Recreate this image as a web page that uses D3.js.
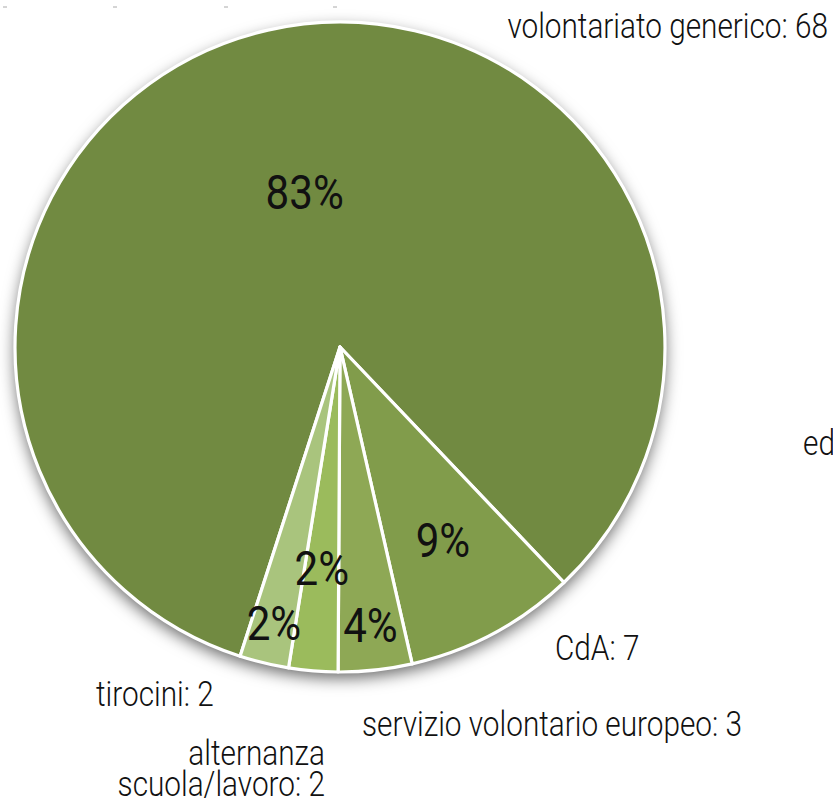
<!DOCTYPE html>
<html>
<head>
<meta charset="utf-8">
<script src="https://cdn.jsdelivr.net/npm/d3@7/dist/d3.min.js"></script>
<style>
  html, body { margin: 0; padding: 0; background: #fff; }
  svg { display: block; }
  text { font-family: Roboto, "Noto Sans", sans-serif; fill: #111; }
</style>
</head>
<body>
<svg id="chart" width="833" height="803"></svg>
<script>
// Ripartizione delle attività
const categories = ["volontariato generico", "CdA", "servizio volontario europeo", "alternanza scuola/lavoro", "tirocini"];
const values = [68, 7, 3, 2, 2];
const colors = ["#718a41", "#819c4b", "#8ea855", "#9bbb5c", "#a9c47d"];

// label placement
const pctRadius = [0.49, 0.67, 0.86, 0.68, 0.87];
const outerLabels = [
  { lines: ["volontariato generico: 68"], x: 828, y: 38, anchor: "end" },
  { lines: ["CdA: 7"], x: 555, y: 660, anchor: "start" },
  { lines: ["servizio volontario europeo: 3"], x: 362, y: 736, anchor: "start" },
  { lines: ["alternanza", "scuola/lavoro: 2"], x: 325, y: 765, anchor: "end" },
  { lines: ["tirocini: 2"], x: 96, y: 706, anchor: "start" }
];

const svg = d3.select("#chart");
const cx = 340, cy = 347, R = 325;
const squeezeOuter = 0.85, squeezePct = 0.86;

const defs = svg.append("defs");
const f = defs.append("filter").attr("id", "shadow")
  .attr("x", "-20%").attr("y", "-20%").attr("width", "140%").attr("height", "140%");
f.append("feDropShadow").attr("dx", 0).attr("dy", 6).attr("stdDeviation", 8)
  .attr("flood-color", "#000").attr("flood-opacity", 0.6);

const total = d3.sum(values);
const start = 197.9 * Math.PI / 180;
const pie = d3.pie().sort(null).startAngle(start).endAngle(start + 2 * Math.PI);
const arcs = pie(values);
const arc = d3.arc().innerRadius(0).outerRadius(R);

const g = svg.append("g").attr("transform", `translate(${cx},${cy})`);

g.append("circle").attr("r", R).attr("fill", "#fff").attr("filter", "url(#shadow)");

g.selectAll("path.slice").data(arcs).join("path")
  .attr("class", "slice")
  .attr("d", arc)
  .attr("fill", (d, i) => colors[i])
  .attr("stroke", "#fff")
  .attr("stroke-width", 3.2)
  .attr("stroke-linejoin", "round");

// percentage labels along each slice's mid-angle
g.selectAll("text.pct").data(arcs).join("text")
  .attr("class", "pct")
  .attr("transform", (d, i) => {
    const a = (d.startAngle + d.endAngle) / 2;
    const r = R * pctRadius[i];
    return `translate(${r * Math.sin(a)},${-r * Math.cos(a)}) scale(${squeezePct},1)`;
  })
  .attr("text-anchor", "middle")
  .attr("dy", "0.36em")
  .attr("font-size", 49)
  .attr("font-weight", 400)
  .text(d => Math.round(d.value / total * 100) + "%");

// category labels
outerLabels.forEach(lab => {
  const t = svg.append("text")
    .attr("transform", `translate(${lab.x},${lab.y}) scale(${squeezeOuter},1)`)
    .attr("text-anchor", lab.anchor)
    .attr("font-size", 35)
    .attr("font-weight", 300);
  lab.lines.forEach((ln, j) => {
    t.append("tspan").attr("x", 0).attr("y", j * 31).text(ln);
  });
});

// clipped legend text at the right edge
svg.append("text")
  .attr("transform", `translate(803,455) scale(${squeezeOuter},1)`)
  .attr("font-size", 35).attr("font-weight", 300)
  .text("ed");

// small marks along the top edge
svg.selectAll("line.tick").data([5, 115, 226, 335]).join("line")
  .attr("class", "tick")
  .attr("x1", d => d - 2).attr("x2", d => d + 2)
  .attr("y1", 7).attr("y2", 7)
  .attr("stroke", "#aaa").attr("stroke-width", 1);
</script>
</body>
</html>
